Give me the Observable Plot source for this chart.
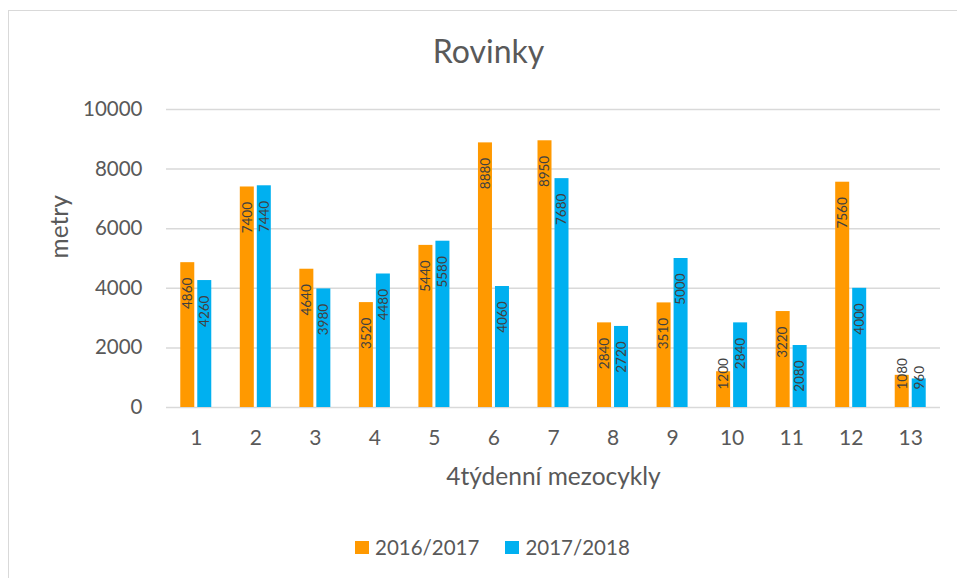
<!DOCTYPE html>
<html>
<head>
<meta charset="utf-8">
<script src="https://cdn.jsdelivr.net/npm/d3@7"></script>
<script src="https://cdn.jsdelivr.net/npm/@observablehq/plot@0.6"></script>
<style>
  html, body { margin: 0; padding: 0; background: #fff; }
  #wrap { position: relative; width: 957px; height: 578px; overflow: hidden; font-family: Lato, sans-serif; color: #595959; }
  #frame { position: absolute; left: 8px; top: 10px; width: 960px; height: 580px; border-top: 1.5px solid #d9d9d9; border-left: 1.5px solid #d9d9d9; box-sizing: border-box; }
  #title { position: absolute; left: 0; width: 977px; top: 31px; text-align: center; font-size: 32px; line-height: normal; }
  #chart { position: absolute; left: 0; top: 0; }
  #legend { position: absolute; left: 355px; top: 535px; font-size: 20.5px; line-height: normal; white-space: nowrap; display: flex; align-items: center; }
  .sw { display: inline-block; width: 14px; height: 13px; margin-right: 6px; }
</style>
</head>
<body>
<div id="wrap">
  <div id="frame"></div>
  <div id="chart"></div>
  <div id="title"></div>
  <div id="legend"></div>
</div>
<script>
const titleText = "Rovinky";
const xTitle = "4týdenní mezocykly";
const yTitle = "metry";
const categories = ["1","2","3","4","5","6","7","8","9","10","11","12","13"];
const seriesNames = ["2016/2017", "2017/2018"];
const values2016 = [4860, 7400, 4640, 3520, 5440, 8880, 8950, 2840, 3510, 1200, 3220, 7560, 1080];
const values2017 = [4260, 7440, 3980, 4480, 5580, 4060, 7680, 2720, 5000, 2840, 2080, 4000, 960];
const yTicks = [0, 2000, 4000, 6000, 8000, 10000];
const colors = ["#FF9900", "#00B0F0"];

const W = 957, H = 578;
const mL = 166, mR = 17, mT = 109, mB = 171;
const bw = (W - mL - mR) / categories.length;
const barW = 14, gap = 3;
const innerInset = bw / 2 - (gap / 2 + barW);
const nearInset = bw / 2 + gap / 2;

const d1 = categories.map((c, i) => ({cat: c, v: values2016[i]}));
const d2 = categories.map((c, i) => ({cat: c, v: values2017[i]}));
const off = gap / 2 + barW / 2;
const labelFill = "#404040";

function labels(data, dx) {
  return [
    Plot.text(data.filter(d => d.v >= 2000), {x: "cat", y: "v", text: d => String(d.v), rotate: -90, textAnchor: "end", dx, dy: 15, fontSize: 13.5, fill: labelFill}),
    Plot.text(data.filter(d => d.v < 2000), {x: "cat", y: 0, text: d => String(d.v), rotate: -90, textAnchor: "start", dx, dy: -18, fontSize: 13.5, fill: labelFill})
  ];
}

const chart = Plot.plot({
  width: W, height: H,
  marginLeft: mL, marginRight: mR, marginTop: mT, marginBottom: mB,
  style: {fontFamily: "Lato, sans-serif", color: "#595959", background: "transparent", overflow: "visible"},
  x: {type: "band", domain: categories, padding: 0, round: false},
  y: {domain: [0, 10000]},
  marks: [
    Plot.ruleY(yTicks, {stroke: "#d9d9d9", strokeWidth: 1.5}),
    Plot.axisY({ticks: yTicks, tickSize: 0, tickPadding: 24, fontSize: 20.5, label: null, tickFormat: d => String(d)}),
    Plot.axisX({tickSize: 0, tickPadding: 23, fontSize: 21, label: null}),
    Plot.barY(d1, {x: "cat", y: "v", fill: colors[0], insetLeft: innerInset, insetRight: nearInset}),
    Plot.barY(d2, {x: "cat", y: "v", fill: colors[1], insetLeft: nearInset, insetRight: innerInset}),
    ...labels(d1, -off),
    ...labels(d2, off),
    Plot.text([yTitle], {frameAnchor: "left", text: d => d, rotate: -90, dx: -106, fontSize: 24.5, fill: "#595959"}),
    Plot.text([xTitle], {frameAnchor: "bottom", text: d => d, dy: 77, fontSize: 24.5, fill: "#595959"})
  ]
});
document.getElementById("chart").appendChild(chart);
document.getElementById("title").textContent = titleText;

const legend = document.getElementById("legend");
seriesNames.forEach((name, i) => {
  const item = document.createElement("span");
  item.style.display = "flex";
  item.style.alignItems = "center";
  item.style.marginRight = i === 0 ? "26px" : "0";
  const sw = document.createElement("span");
  sw.className = "sw";
  sw.style.background = colors[i];
  const t = document.createElement("span");
  t.textContent = name;
  item.appendChild(sw);
  item.appendChild(t);
  legend.appendChild(item);
});
</script>
</body>
</html>
